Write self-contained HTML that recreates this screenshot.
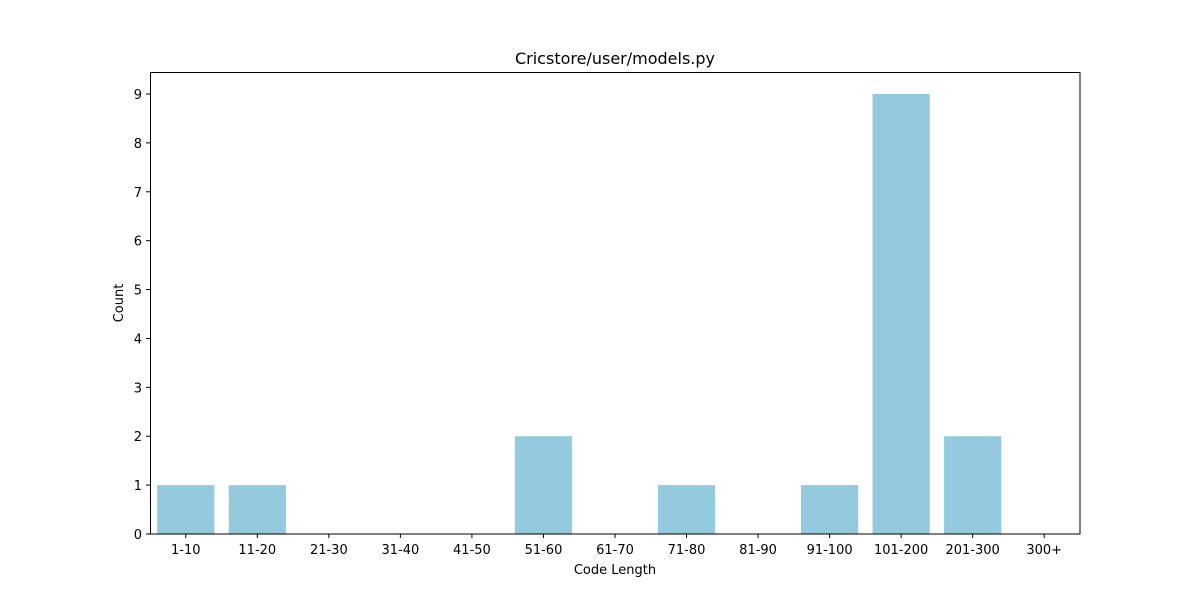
<!DOCTYPE html>
<html><head><meta charset="utf-8"><style>
body{margin:0;background:#fff;}
svg text{font-family:"DejaVu Sans","Liberation Sans",sans-serif;fill:#000;}
</style></head><body>
<svg width="1200" height="600">
<rect width="1200" height="600" fill="#fff"/>
<g id="bars"></g>
<g id="xt"></g>
<g id="yt"></g>
<rect x="150.5" y="72.5" width="929.5" height="461.5" fill="none" stroke="#000" stroke-width="1"/>
<text x="615" y="64" font-size="16" text-anchor="middle">Cricstore/user/models.py</text>
<text x="615" y="574" font-size="13" text-anchor="middle">Code Length</text>
<text x="123" y="303" font-size="13" text-anchor="middle" transform="rotate(-90 123 303)">Count</text>
</svg>
<script>
const categories=["1-10","11-20","21-30","31-40","41-50","51-60","61-70","71-80","81-90","91-100","101-200","201-300","300+"];
const counts=[1,1,0,0,0,2,0,1,0,1,9,2,0];
const yTicks=[0,1,2,3,4,5,6,7,8,9];
const L=150,R=1080,T=72,B=534,yMax=9.45;
const ns="http://www.w3.org/2000/svg";
const step=(R-L)/categories.length;
const xC=i=>L+step*(i+0.5);
const y=v=>B-(B-T)*v/yMax;
const bars=document.getElementById('bars'),xt=document.getElementById('xt'),yt=document.getElementById('yt');
categories.forEach((c,i)=>{
  const r=document.createElementNS(ns,'rect');
  r.setAttribute('x',xC(i)-step*0.4);r.setAttribute('width',step*0.8);
  r.setAttribute('y',y(counts[i]));r.setAttribute('height',B-y(counts[i]));
  r.setAttribute('fill','#95c9de');
  
  
  bars.appendChild(r);
  const l=document.createElementNS(ns,'line');
  l.setAttribute('x1',xC(i));l.setAttribute('x2',xC(i));l.setAttribute('y1',B);l.setAttribute('y2',B+4);l.setAttribute('stroke','#000');
  
  
  xt.appendChild(l);
  const t=document.createElementNS(ns,'text');
  t.setAttribute('x',xC(i));t.setAttribute('y',B+20);t.setAttribute('font-size','13');t.setAttribute('text-anchor','middle');
  t.textContent=c;
  
  
  xt.appendChild(t);
});
yTicks.forEach(v=>{
  const l=document.createElementNS(ns,'line');
  l.setAttribute('x1',L-4);l.setAttribute('x2',L);l.setAttribute('y1',y(v));l.setAttribute('y2',y(v));l.setAttribute('stroke','#000');
  
  
  yt.appendChild(l);
  const t=document.createElementNS(ns,'text');
  t.setAttribute('x',L-8);t.setAttribute('y',y(v)+5);t.setAttribute('font-size','13');t.setAttribute('text-anchor','end');
  t.textContent=v;
  
  
  yt.appendChild(t);
});
</script>
</body></html>
